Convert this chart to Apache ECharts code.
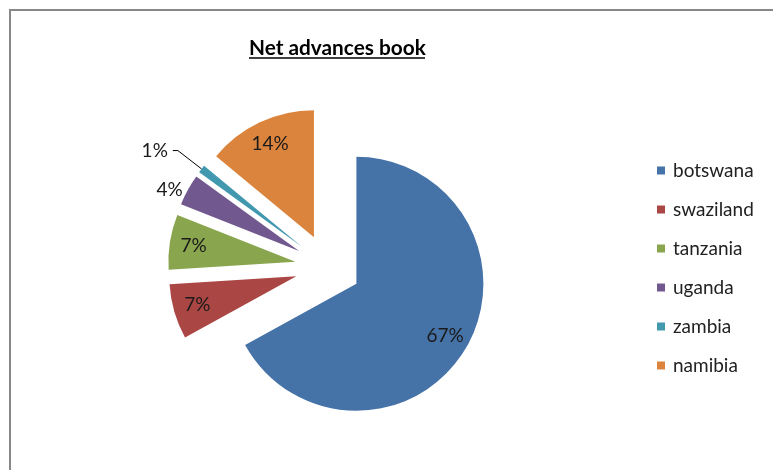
<!DOCTYPE html>
<html><head><meta charset="utf-8">
<script src="https://cdn.jsdelivr.net/npm/echarts@6/dist/echarts.min.js"></script>
<style>html,body{margin:0;padding:0;background:#fff}#c{width:773px;height:470px}</style>
</head><body><div id="c"></div>
<script>
const titleText = 'Net advances book';
const categories = ['botswana', 'swaziland', 'tanzania', 'uganda', 'zambia', 'namibia'];
const values = [67, 7, 7, 4, 1, 14];
const colors = ['#4572A7', '#AA4643', '#89A54E', '#71588F', '#4198AF', '#DB843D'];
const outsideLabels = ['uganda', 'zambia'];

const FONT = 'Lato';
const CENTER = [328, 267];
const R = 127;
const OFFSET = 33;

const mainData = categories.map((n, i) => {
  const isOut = outsideLabels.indexOf(n) >= 0;
  const d = { name: n, value: values[i], selected: true, itemStyle: { color: colors[i] } };
  if (isOut) {
    d.label = { show: true, position: 'outside' };
    if (n === 'zambia') {
      d.labelLine = { show: true, length: 30, length2: 5, lineStyle: { color: '#000', width: 1 } };
    } else {
      d.labelLine = { show: false, length: 0, length2: 0 };
    }
  } else {
    d.label = { show: false };
    d.labelLine = { show: false };
  }
  return d;
});

const labelData = categories.map((n, i) => ({
  name: n, value: values[i], selected: true,
  label: { show: outsideLabels.indexOf(n) < 0 }
}));

const chart = echarts.init(document.getElementById('c'), null, { renderer: 'canvas' });
chart.setOption({
  animation: false,
  backgroundColor: '#fff',
  title: {
    text: titleText, left: 249, top: 38, padding: 0,
    textStyle: { fontFamily: FONT, fontSize: 20.8, fontWeight: 'bold', color: '#000' }
  },
  legend: {
    orient: 'vertical', left: 657, top: 161, padding: 0,
    icon: 'rect', itemWidth: 8, itemHeight: 8, itemGap: 20,
    data: categories,
    textStyle: { fontFamily: FONT, fontSize: 19, lineHeight: 19, color: '#222', padding: [0, 0, 0, 3] },
    selectedMode: false
  },
  graphic: [
    { type: 'rect', shape: { x: 10, y: 10, width: 800, height: 500 }, style: { fill: 'none', stroke: '#888', lineWidth: 2 }, silent: true },
    { type: 'line', shape: { x1: 249, y1: 58, x2: 425, y2: 58 }, style: { stroke: '#000', lineWidth: 1.5 }, silent: true }
  ],
  series: [
    {
      type: 'pie', name: 'main', center: CENTER, radius: [0, R],
      startAngle: 90, clockwise: true,
      selectedMode: 'multiple', selectedOffset: OFFSET,
      avoidLabelOverlap: false,
      label: { fontFamily: FONT, fontSize: 19, color: '#1a1a1a', formatter: '{c}%' },
      itemStyle: { borderWidth: 0 },
      emphasis: { disabled: true },
      data: mainData
    },
    {
      type: 'pie', name: 'labels', center: CENTER, radius: [80, 120],
      startAngle: 90, clockwise: true,
      selectedMode: 'multiple', selectedOffset: OFFSET,
      avoidLabelOverlap: false, silent: true,
      itemStyle: { color: 'rgba(0,0,0,0)', borderWidth: 0 },
      label: { position: 'inside', fontFamily: FONT, fontSize: 19, color: '#1a1a1a', formatter: '{c}%' },
      labelLine: { show: false },
      emphasis: { disabled: true },
      data: labelData
    }
  ]
});
</script></body></html>
